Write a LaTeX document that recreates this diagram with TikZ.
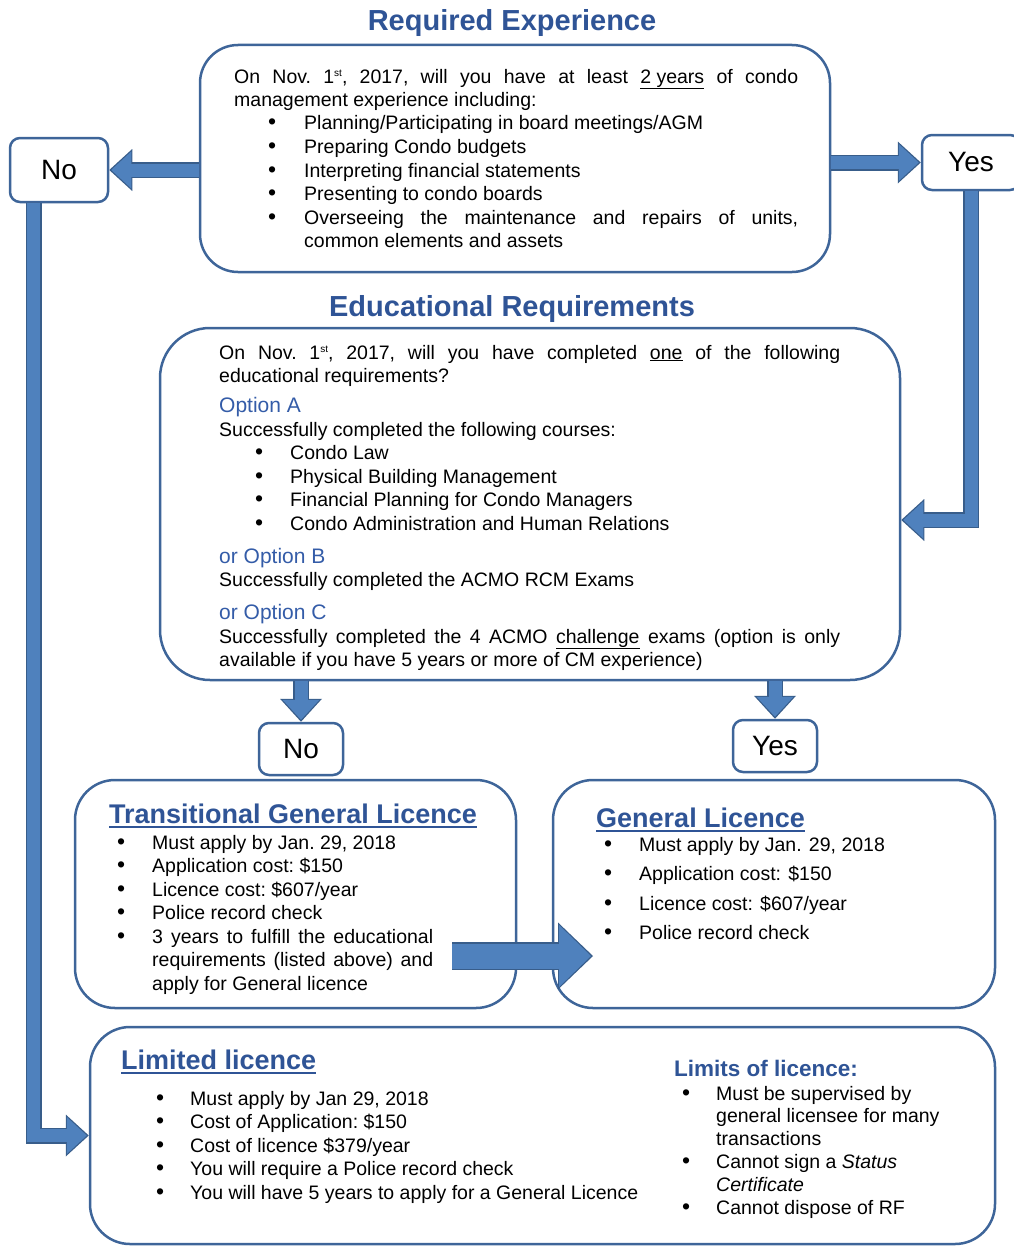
\documentclass[tikz,border=0pt]{standalone}
\usepackage{fontspec}
\setmainfont{Liberation Sans}
\usetikzlibrary{arrows.meta,calc,positioning}
\definecolor{boxline}{RGB}{62,101,153}
\definecolor{arrfill}{RGB}{79,129,189}
\definecolor{arrline}{RGB}{56,93,138}
\definecolor{titleblue}{RGB}{47,84,150}
\definecolor{optblue}{RGB}{52,92,168}
% bullet lines with hanging indent
\newcommand{\setbull}[2]{\def\bulpos{#1}\def\txtpos{#2}}
\newcommand{\bfirst}{\hangindent=\txtpos\hangafter=1\hbox to \txtpos{\hskip\bulpos{\fontsize{23}{23}\selectfont\textbullet}\hfil}}
\newcommand{\bull}{\par\noindent\bfirst}
\newcommand{\opt}[2][9.5pt]{\par\vspace{#1}{\fontsize{21}{23.5}\selectfont\color{optblue}#2\par}}
\newcommand{\ordst}{\raisebox{6.5pt}{\fontsize{10}{10}\selectfont st}}
\tikzset{
  roundbox/.style={draw=boxline, line width=2.5pt, fill=white, rounded corners=#1, inner sep=0pt},
  roundbox/.default=38pt,
  answer/.style={roundbox=10pt, font=\fontsize{28}{30}\selectfont},
  body/.style={anchor=base west, inner sep=0pt, align=justify, font=\frenchspacing\fontsize{19.5}{23.5}\selectfont},
  heading/.style={anchor=base, inner sep=0pt, text=titleblue, font=\bfseries\fontsize{29}{33}\selectfont},
  subhead/.style={anchor=base west, inner sep=0pt, text=titleblue, font=\bfseries\fontsize{27}{30}\selectfont},
  uline/.style={titleblue, line width=2.5pt},
  flow/.style={draw=arrfill, line width=13pt, shorten >=2pt,
    -{Triangle[width=37pt,length=20pt,line width=0pt]},
    preaction={draw=arrline, line width=16pt, shorten >=0pt,
      -{Triangle[width=42pt,length=23pt,line width=0pt]}}},
  bigflow/.style={draw=arrfill, line width=25pt, shorten >=2pt,
    -{Triangle[width=62pt,length=32pt,line width=0pt]},
    preaction={draw=arrline, line width=28pt, shorten >=0pt,
      -{Triangle[width=67pt,length=35pt,line width=0pt]}}}
}
\begin{document}
\begin{tikzpicture}[x=1pt, y=1pt]
  \useasboundingbox (0,0) rectangle (1013,-1247);
  %% boxes
  \node[roundbox, minimum width=630pt, minimum height=227pt] (expbox) at (515,-158.5) {};
  \node[answer, minimum width=98pt, minimum height=64pt] (nobox) at (59,-170) {No};
  \node[answer, minimum width=98pt, minimum height=55pt] (yesbox) at (971,-162.5) {Yes};
  \node[roundbox=50pt, minimum width=740pt, minimum height=352pt] (edubox) at (530,-504) {};
  \node[answer, minimum width=84pt, minimum height=52pt] (nobox2) at (301,-749) {No};
  \node[answer, minimum width=84pt, minimum height=52pt] (yesbox2) at (775,-746) {Yes};
  \node[roundbox=40pt, minimum width=441pt, minimum height=228pt] (tglbox) at (295.5,-894) {};
  \node[roundbox=40pt, minimum width=442pt, minimum height=228pt] (genbox) at (774,-894) {};
  \node[roundbox=40pt, minimum width=905pt, minimum height=217pt] (limbox) at (542.5,-1135.5) {};
  %% arrows
  \coordinate (eduin) at ([yshift=-16pt]edubox.east);
  \coordinate (tglout) at (452,-956);
  \coordinate (genin) at (593,-956);
  \draw[flow] (expbox.west |- nobox.east) -- (nobox.east);
  \draw[flow] (expbox.east |- yesbox.west) -- (yesbox.west);
  \draw[flow] (yesbox.south) |- (eduin);
  \draw[flow] ([xshift=25pt]nobox.south west) |- (limbox.west);
  \draw[flow] (edubox.south -| nobox2.north) -- (nobox2.north);
  \draw[flow] (edubox.south -| yesbox2.north) -- (yesbox2.north);
  \draw[bigflow] (tglout) -- (genin);
  %% headings
  \node[heading] (exphead) at (512,-31) {Required Experience};
  \node[heading] (eduhead) at (512,-316) {Educational Requirements};
  %% experience
  \node[body, text width=564pt] (exptext) at (234,-83) {\setbull{34pt}{70pt}%
    On Nov. 1\ordst, 2017, will you have at least \underline{2 years} of condo\linebreak
    management experience including:
    \bull Planning/Participating in board meetings/AGM
    \bull Preparing Condo budgets
    \bull Interpreting financial statements
    \bull Presenting to condo boards
    \bull Overseeing the maintenance and repairs of units,\linebreak common elements and assets\par};
  %% education
  \node[body, text width=621pt] (edutext) at (219,-359) {\setbull{36pt}{71pt}%
    On Nov. 1\ordst, 2017, will you have completed \underline{one} of the following\linebreak
    educational requirements?
    \opt[6.5pt]{Option A}
    Successfully completed the following courses:
    \bull Condo Law
    \bull Physical Building Management
    \bull Financial Planning for Condo Managers
    \bull Condo Administration and Human Relations
    \opt{or Option B}
    Successfully completed the ACMO RCM Exams
    \opt{or Option C}
    Successfully completed the 4 ACMO \underline{challenge} exams (option is only\linebreak
    available if you have 5 years or more of CM experience)\par};
  %% transitional licence
  \node[subhead] (tgltitle) at (109,-823) {Transitional General Licence};
  \draw[uline] ([yshift=-4pt]tgltitle.base west) -- ([yshift=-4pt]tgltitle.base east);
  \node[body, text width=324pt] (tgltext) at (109,-849) {\setbull{8pt}{43pt}%
    \bfirst Must apply by Jan. 29, 2018
    \bull Application cost: \$150
    \bull Licence cost: \$607/year
    \bull Police record check
    \bull 3 years to fulfill the educational\linebreak requirements (listed above) and\linebreak apply for General licence\par};
  %% general licence
  \node[subhead] (gentitle) at (596,-827) {General Licence};
  \draw[uline] ([yshift=-4pt]gentitle.base west) -- ([yshift=-4pt]gentitle.base east);
  \node[body, text width=340pt, font=\fontsize{19.5}{29.5}\selectfont] (gentext) at (596,-851) {\setbull{8pt}{43pt}%
    \bfirst Must apply by Jan. 29, 2018
    \bull Application cost: \$150
    \bull Licence cost: \$607/year
    \bull Police record check\par};
  %% limited licence
  \node[subhead] (limtitle) at (121,-1069) {Limited licence};
  \draw[uline] ([yshift=-4pt]limtitle.base west) -- ([yshift=-4pt]limtitle.base east);
  \node[body, text width=560pt] (limtext) at (121,-1105) {\setbull{35pt}{69pt}%
    \bfirst Must apply by Jan 29, 2018
    \bull Cost of Application: \$150
    \bull Cost of licence \$379/year
    \bull You will require a Police record check
    \bull You will have 5 years to apply for a General Licence\par};
  \node[subhead, font=\bfseries\fontsize{22.5}{26}\selectfont] (limitstitle) at (674,-1076) {Limits of licence:};
  \node[body, text width=280pt, font=\fontsize{19.5}{22.8}\selectfont] (limitstext) at (674,-1100) {\setbull{8pt}{42pt}%
    \bfirst Must be supervised by\newline general licensee for many\newline transactions
    \bull Cannot sign a \textit{Status}\newline \textit{Certificate}
    \bull Cannot dispose of RF\par};
\end{tikzpicture}
\end{document}
